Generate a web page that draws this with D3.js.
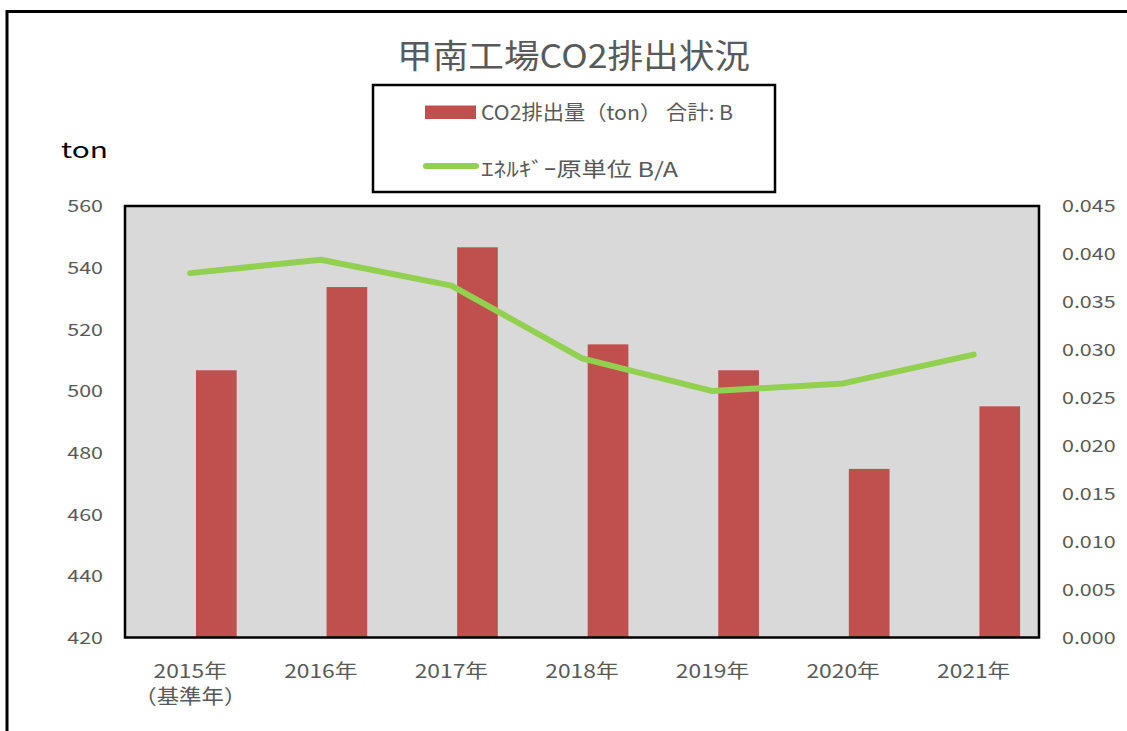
<!DOCTYPE html>
<html><head><meta charset="utf-8">
<script src="https://cdn.jsdelivr.net/npm/d3@7"></script>
<style>body{margin:0;background:#fff}svg{display:block}</style>
</head><body>
<svg id="c" width="1127" height="731"></svg>
<script>
// ---- data ----
const titleText = "甲南工場CO2排出状況";
const yAxisUnit = "ton";
const categories = ["2015年","2016年","2017年","2018年","2019年","2020年","2021年"];
const categorySubLabels = ["（基準年）","","","","","",""];
const co2Tons = [506.7, 533.7, 546.6, 515.1, 506.7, 474.7, 495.0];
const energyIntensity = [0.0380, 0.0394, 0.0367, 0.0291, 0.0257, 0.0265, 0.0295];
const leftTicks = [420, 440, 460, 480, 500, 520, 540, 560];
const rightTicks = [0, 0.005, 0.010, 0.015, 0.020, 0.025, 0.030, 0.035, 0.040, 0.045];
const seriesNames = ["CO2排出量（ton） 合計: B", "ｴﾈﾙｷﾞｰ原単位 B/A"];

// ---- layout ----
const FONT = "'Noto Sans CJK JP','Noto Sans',sans-serif";
const TXT = "#595959";
const BAR = "#c0504d";
const LINE = "#92d050";
const P = {x0: 125, x1: 1039, y0: 206, y1: 637.5};

const svg = d3.select("#c");

// outer frame
svg.append("rect").attr("x", 7).attr("y", 11.5).attr("width", 1200).attr("height", 800)
  .attr("fill", "#fff").attr("stroke", "#000").attr("stroke-width", 3);

// scales
const x = d3.scaleBand().domain(categories).range([P.x0, P.x1]).paddingInner(0).paddingOuter(0);
const inner = d3.scaleBand().domain(["gap", "co2"]).range([0, x.bandwidth()])
  .paddingInner(0.2187).paddingOuter(0.363);
const yL = d3.scaleLinear().domain([420, 560]).range([P.y1, P.y0]);
const yR = d3.scaleLinear().domain([0, 0.045]).range([P.y1, P.y0]);

// plot background
svg.append("rect").attr("x", P.x0).attr("y", P.y0).attr("width", P.x1 - P.x0).attr("height", P.y1 - P.y0)
  .attr("fill", "#d9d9d9");

// bars
svg.append("g").selectAll("rect").data(categories).join("rect")
  .attr("x", d => x(d) + inner("co2"))
  .attr("width", inner.bandwidth())
  .attr("y", (d, i) => yL(co2Tons[i]))
  .attr("height", (d, i) => yL(420) - yL(co2Tons[i]))
  .attr("fill", BAR);

// line
const line = d3.line().x((d, i) => x(categories[i]) + x.bandwidth() / 2).y(d => yR(d));
svg.append("path").datum(energyIntensity).attr("d", line)
  .attr("fill", "none").attr("stroke", LINE).attr("stroke-width", 6)
  .attr("stroke-linecap", "round").attr("stroke-linejoin", "round");

// plot border
svg.append("rect").attr("x", P.x0).attr("y", P.y0).attr("width", P.x1 - P.x0).attr("height", P.y1 - P.y0)
  .attr("fill", "none").attr("stroke", "#000").attr("stroke-width", 2.5);

function stretch(sel, sx) {
  sel.each(function () {
    const w = this.getComputedTextLength();
    d3.select(this).attr("textLength", w * sx).attr("lengthAdjust", "spacingAndGlyphs");
  });
}

// left axis
const gL = svg.append("g").attr("transform", `translate(${P.x0},0)`)
  .call(d3.axisLeft(yL).tickValues(leftTicks).tickSize(0).tickPadding(22).tickFormat(d3.format("d")));
gL.select(".domain").remove();
gL.selectAll("text").attr("font-family", FONT).attr("font-size", 16.5).attr("fill", TXT).attr("dy", "0.36em");
stretch(gL.selectAll("text"), 1.3);

// right axis
const gR = svg.append("g").attr("transform", `translate(${P.x1},0)`)
  .call(d3.axisRight(yR).tickValues(rightTicks).tickSize(0).tickPadding(23).tickFormat(d3.format(".3f")));
gR.select(".domain").remove();
gR.selectAll("text").attr("font-family", FONT).attr("font-size", 16.5).attr("fill", TXT).attr("dy", "0.36em");
stretch(gR.selectAll("text"), 1.3);

// x labels
const xl = svg.append("g");
const r1 = xl.selectAll("text.r1").data(categories).join("text").attr("class", "r1")
  .attr("x", d => x(d) + x.bandwidth() / 2).attr("y", 677.5)
  .attr("text-anchor", "middle").attr("font-family", FONT).attr("font-size", 19).attr("fill", TXT)
  .text(d => d);
stretch(r1, 1.2);
xl.selectAll("text.r2").data(categories.filter((d, i) => categorySubLabels[i])).join("text").attr("class", "r2")
  .attr("x", d => x(d) + x.bandwidth() / 2).attr("y", 704)
  .attr("text-anchor", "middle").attr("font-family", FONT).attr("font-size", 20).attr("fill", TXT)
  .attr("textLength", 112).attr("lengthAdjust", "spacingAndGlyphs")
  .text(d => categorySubLabels[categories.indexOf(d)]);

// title
svg.append("text").attr("x", 573.5).attr("y", 68).attr("text-anchor", "middle")
  .attr("font-family", FONT).attr("font-size", 33).attr("fill", TXT)
  .attr("textLength", 353).attr("lengthAdjust", "spacingAndGlyphs").text(titleText);

// unit label
svg.append("text").attr("x", 61).attr("y", 158).attr("font-family", FONT).attr("font-size", 21)
  .attr("fill", "#000").attr("textLength", 47).attr("lengthAdjust", "spacingAndGlyphs").text(yAxisUnit);

// legend
const lg = svg.append("g");
lg.append("rect").attr("x", 373).attr("y", 85).attr("width", 402).attr("height", 107)
  .attr("fill", "#fff").attr("stroke", "#000").attr("stroke-width", 2.5);
lg.append("rect").attr("x", 425).attr("y", 105.5).attr("width", 51).attr("height", 13.5).attr("fill", BAR);
lg.append("text").attr("x", 481).attr("y", 120).attr("font-family", FONT).attr("font-size", 20)
  .attr("fill", TXT).attr("textLength", 252).attr("lengthAdjust", "spacingAndGlyphs").text(seriesNames[0]);
lg.append("line").attr("x1", 426).attr("x2", 476).attr("y1", 166).attr("y2", 166)
  .attr("stroke", LINE).attr("stroke-width", 6).attr("stroke-linecap", "round");
lg.append("text").attr("x", 481).attr("y", 177).attr("font-family", FONT).attr("font-size", 20)
  .attr("fill", TXT).attr("textLength", 197).attr("lengthAdjust", "spacingAndGlyphs").text(seriesNames[1]);
</script>
</body></html>
